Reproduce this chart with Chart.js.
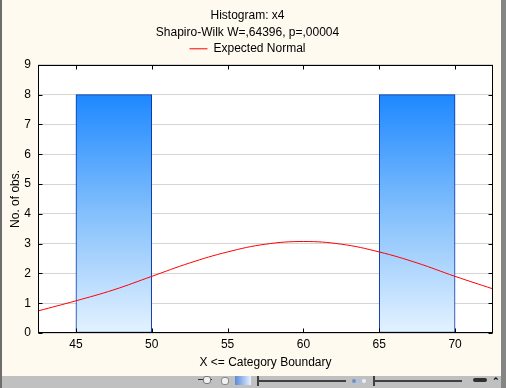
<!DOCTYPE html>
<html>
<head>
<meta charset="utf-8">
<script src="https://cdn.jsdelivr.net/npm/chart.js@4.4.0/dist/chart.umd.min.js"></script>
<style>
  html, body { margin: 0; padding: 0; background: #fffaf0; }
  #win { position: relative; width: 506px; height: 388px; background: #fffaf0; overflow: hidden; }
  #leftEdge { position: absolute; left: 0; top: 0; width: 2px; height: 388px; background: #6e6e6e; }
  #rightEdge { position: absolute; left: 501px; top: 0; width: 5px; height: 388px; background: #858585; }
  #plotBox { position: absolute; left: 2px; top: 0; width: 498px; height: 376px; }
  #toolbar { position: absolute; left: 2px; top: 376px; width: 499px; height: 12px; background: #c0c0c0; }
  .tb { position: absolute; }
</style>
</head>
<body>
<div id="win">
  <div id="plotBox"><canvas id="histChart" width="498" height="376"></canvas></div>
  <div id="leftEdge"></div>
  <div id="rightEdge"></div>
  <div id="toolbar">
    <div class="tb" style="left:196px;top:3px;width:14px;height:1px;background:#333"></div>
    <div class="tb" style="left:201px;top:0px;width:6px;height:6px;border-radius:3px;background:#f0f0f0;border:1px solid #777"></div>
    <div class="tb" style="left:219px;top:1px;width:6px;height:6px;border-radius:3px;background:#f0f0f0;border:1px solid #888"></div>
    <div class="tb" style="left:233px;top:0px;width:16px;height:9px;background:linear-gradient(to right,#5a8ad8,#e8f0ff)"></div>
    <div class="tb" style="left:256px;top:4px;width:88px;height:2px;background:#404040"></div>
    <div class="tb" style="left:255px;top:0px;width:2px;height:10px;background:#404040"></div>
    <div class="tb" style="left:350px;top:3px;width:4px;height:4px;border-radius:2px;background:#6a8fd0"></div>
    <div class="tb" style="left:355px;top:3px;width:4px;height:4px;border-radius:2px;background:#a8c0e8"></div>
    <div class="tb" style="left:360px;top:3px;width:4px;height:4px;border-radius:2px;background:#e8eef8"></div>
    <div class="tb" style="left:372px;top:4px;width:88px;height:2px;background:#404040"></div>
    <div class="tb" style="left:371px;top:0px;width:2px;height:10px;background:#404040"></div>
    <div class="tb" style="left:471px;top:2px;width:14px;height:4px;background:#303030;border-radius:2px"></div>
    <div class="tb" style="left:490px;top:0px;font:bold 9px 'Liberation Sans';color:#000">&#8963;</div>
  </div>
</div>
<script>
// valores
const binCenters = [47.5, 52.5, 57.5, 62.5, 67.5];
const binCounts = [8, 0, 0, 0, 8];
const normalX = [42.5, 45, 47.5, 50, 52.5, 55, 57.5, 60, 62.5, 65, 67.5, 70, 72.5];
const normalY = [0.74, 1.08, 1.45, 1.90, 2.35, 2.72, 2.98, 3.07, 2.98, 2.72, 2.35, 1.90, 1.48];
const xTicks = [45, 50, 55, 60, 65, 70];
const yTicks = [0, 1, 2, 3, 4, 5, 6, 7, 8, 9];

const font12 = { family: "'Liberation Sans', Arial, sans-serif", size: 12, weight: 'normal' };

// fondo blanco del area de trazado
const plotBg = {
  id: 'plotBg',
  beforeDraw(chart) {
    const { ctx, chartArea: a } = chart;
    ctx.save();
    ctx.fillStyle = '#ffffff';
    ctx.fillRect(a.left, a.top, a.right - a.left, a.bottom - a.top);
    ctx.restore();
  }
};

// marco negro con marcas hacia dentro
const frameTicks = {
  id: 'frameTicks',
  afterDraw(chart) {
    const { ctx, chartArea: a, scales } = chart;
    const L = Math.round(a.left) + 0.5, R = Math.round(a.right) - 0.5;
    const T = Math.round(a.top) + 0.5, B = Math.round(a.bottom) - 0.5;
    ctx.save();
    ctx.strokeStyle = '#000';
    ctx.lineWidth = 1;
    ctx.beginPath();
    xTicks.forEach(v => {
      const px = Math.round(scales.x.getPixelForValue(v)) + 0.5;
      ctx.moveTo(px, B); ctx.lineTo(px, B - 4);
      ctx.moveTo(px, T); ctx.lineTo(px, T + 4);
    });
    yTicks.forEach(v => {
      const py = Math.round(scales.y.getPixelForValue(v)) + 0.5;
      ctx.moveTo(R, py); ctx.lineTo(R - 4, py);
      ctx.moveTo(L, py); ctx.lineTo(L + 4, py);
    });
    ctx.stroke();
    ctx.strokeRect(L, T, R - L, B - T);
    ctx.restore();
  }
};

function barGradient(context) {
  const chart = context.chart;
  if (!chart.chartArea) return '#4aa0ff';
  const y = chart.scales.y;
  const g = chart.ctx.createLinearGradient(0, y.getPixelForValue(Math.max(...binCounts)), 0, y.getPixelForValue(0));
  g.addColorStop(0, '#1e88ff');
  g.addColorStop(0.5, '#84c0fc');
  g.addColorStop(1, '#e4f2ff');
  return g;
}

new Chart(document.getElementById('histChart'), {
  type: 'bar',
  data: {
    datasets: [
      {
        type: 'line',
        label: 'Expected Normal',
        data: normalX.map((x, i) => ({ x: x, y: normalY[i] })),
        borderColor: '#ff0000',
        backgroundColor: '#ff0000',
        borderWidth: 1,
        pointRadius: 0,
        tension: 0.4,
        order: 0
      },
      {
        type: 'bar',
        label: 'bins',
        data: binCenters.map((x, i) => ({ x: x, y: binCounts[i] === 0 ? null : binCounts[i] })),
        backgroundColor: barGradient,
        borderColor: '#0634ac',
        borderWidth: 1,
        borderSkipped: false,
        barPercentage: 1,
        categoryPercentage: 1,
        order: 1
      }
    ]
  },
  options: {
    responsive: false,
    animation: false,
    devicePixelRatio: 1,
    layout: { padding: { left: 0, right: 7, top: 0, bottom: 0 } },
    scales: {
      x: {
        type: 'linear',
        min: 42.5,
        max: 72.5,
        offset: false,
        afterBuildTicks: s => { s.ticks = xTicks.map(v => ({ value: v })); },
        afterFit: s => { s.height = 43; },
        grid: { display: false, drawTicks: false, offset: false },
        border: { display: false },
        ticks: { color: '#000', font: font12, padding: 4, maxRotation: 0 },
        title: { display: true, text: 'X <= Category Boundary', color: '#000', font: font12, padding: { top: 5, bottom: 6 } }
      },
      y: {
        min: 0,
        max: 9,
        afterBuildTicks: s => { s.ticks = yTicks.map(v => ({ value: v })); },
        afterFit: s => { s.width = 36; },
        grid: { color: '#d4d4d4', drawTicks: false, lineWidth: 1 },
        border: { display: false },
        ticks: { color: '#000', font: font12, padding: 7 },
        title: { display: true, text: 'No. of obs.', color: '#000', font: font12, padding: { top: 6, bottom: 0 } }
      }
    },
    plugins: {
      title: { display: true, text: 'Histogram: x4', color: '#000', font: font12, padding: { top: 8, bottom: 3 } },
      subtitle: { display: true, text: 'Shapiro-Wilk W=,64396, p=,00004', color: '#000', font: font12, padding: { top: 0, bottom: 3 } },
      legend: {
        display: true,
        labels: {
          color: '#000',
          font: font12,
          usePointStyle: true,
          pointStyle: 'line',
          pointStyleWidth: 18,
          padding: 0,
          filter: item => item.text === 'Expected Normal'
        }
      },
      tooltip: { enabled: false }
    }
  },
  plugins: [plotBg, frameTicks]
});
</script>
</body>
</html>
